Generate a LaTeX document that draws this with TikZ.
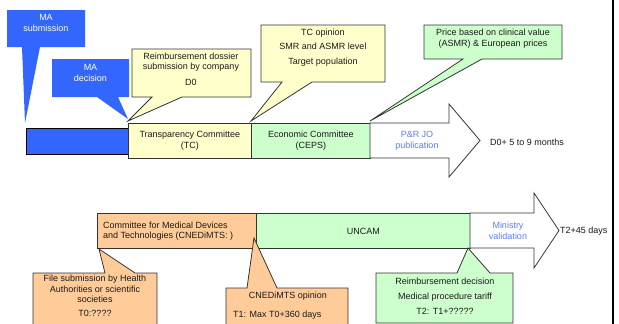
\documentclass[tikz,border=0pt]{standalone}
\usepackage{fontspec}
\setmainfont{Liberation Sans}
\definecolor{mablue}{HTML}{3366FF}
\definecolor{tcyellow}{HTML}{FFFFCC}
\definecolor{cepsgreen}{HTML}{CCFFCC}
\definecolor{orng}{HTML}{FFCC99}
\definecolor{linkblue}{HTML}{5C7CFA}
\definecolor{edgegray}{HTML}{333333}
\definecolor{txtgray}{HTML}{1A1A1A}
\begin{document}
\begin{tikzpicture}[x=1pt,y=-1pt,
  shape box/.style={draw=edgegray, line width=0.8pt, line join=miter},
  txt/.style={font=\fontsize{9}{10.5}\selectfont, inner sep=0pt, align=center, text=txtgray},
  wtxt/.style={txt, text=white},
  btxt/.style={txt, text=linkblue},
  bar/.style={shape box, anchor=north west, inner sep=0pt}]
\useasboundingbox (0,0) rectangle (619,324);
\clip (0,0) rectangle (619,324);

% ---- top row callouts
\fill[mablue] (7,10) -- (85,10) -- (85,47) -- (40,47) -- (25,123) -- (22,47) -- (7,47) -- cycle;
\node[wtxt] (masub) at (46,23) {MA\\submission};
\fill[mablue] (52,59) -- (129,59) -- (129,97) -- (118,97) -- (128,119) -- (97,97) -- (52,97) -- cycle;
\node[wtxt] (madec) at (90.5,73) {MA\\decision};

\filldraw[shape box, fill=tcyellow] (132,49) -- (251,49) -- (251,97) -- (182,97) -- (128,121) -- (152,97) -- (132,97) -- cycle;
\node[txt] (dossier) at (191,69) {Reimbursement dossier\\submission by company\\[5pt]D0};

\filldraw[shape box, fill=tcyellow] (261,25) -- (385,25) -- (385,82) -- (312,82) -- (251,121) -- (282,82) -- (261,82) -- cycle;
\node[txt, font=\fontsize{9}{14.5}\selectfont] (tcop) at (323,47.5) {TC opinion\\SMR and ASMR level\\Target population};

\filldraw[shape box, fill=cepsgreen] (424,25) -- (562,25) -- (562,59) -- (482,59) -- (370,121) -- (463,59) -- (424,59) -- cycle;
\node[txt] (price) at (493,38.5) {Price based on clinical value\\(ASMR) \& European prices};

% ---- top row bars
\filldraw[line width=0.8pt, draw=black, fill=mablue] (26,128) rectangle (128,154);
\node[bar, fill=tcyellow, minimum width=123pt, minimum height=35pt] (tc) at (128,123) {};
\node[txt] (tctxt) at (tc.center) {Transparency Committee\\(TC)};
\node[bar, fill=cepsgreen, minimum width=119pt, minimum height=35pt] (ceps) at (251,123) {};
\node[txt] (cepstxt) at (ceps.center) {Economic Committee\\(CEPS)};
\filldraw[shape box, fill=white] (370,123) -- (449,123) -- (449,104) -- (480,140.5) -- (449,177) -- (449,158) -- (370,158) -- cycle;
\node[btxt] (prjo) at (417,141) {P\&R JO\\publication};
\node[txt, anchor=west] (d0) at (490,142) {D0+ 5 to 9 months};

% ---- bottom row bars
\node[bar, fill=orng, minimum width=159pt, minimum height=35pt] (cned) at (97,213) {};
\node[txt, align=left, anchor=west] (cnedtxt) at (103,231) {Committee for Medical Devices\\and Technologies (CNEDiMTS: )};
\node[bar, fill=cepsgreen, minimum width=214pt, minimum height=35pt] (uncam) at (256,213) {};
\node[txt] (uncamtxt) at (uncam.center) {UNCAM};
\filldraw[shape box, fill=white] (470,213) -- (534,213) -- (534,193) -- (559,230.5) -- (534,268) -- (534,248) -- (470,248) -- cycle;
\node[btxt] (ministry) at (508,231) {Ministry\\validation};
\node[txt, anchor=west] (t2) at (560,231) {T2+45 days};

% ---- bottom callouts
\filldraw[shape box, fill=orng] (33,273) -- (105,273) -- (99,249) -- (135,273) -- (157,273) -- (157,330) -- (33,330) -- cycle;
\node[txt] (file) at (95,296) {File submission by Health\\Authorities or scientific\\societies\\[3pt]T0:????};

\filldraw[shape box, fill=orng] (226,288) -- (247,288) -- (254,238) -- (277,288) -- (348,288) -- (348,330) -- (226,330) -- cycle;
\node[txt] (cnedop) at (288,296) {CNEDiMTS opinion};
\node[txt, anchor=west] (t1) at (233,315) {T1: Max T0+360 days};

\filldraw[shape box, fill=cepsgreen] (376,273) -- (457,273) -- (468,248) -- (490,273) -- (513,273) -- (513,323) -- (376,323) -- cycle;
\node[txt, font=\fontsize{9}{15}\selectfont] (reimb) at (445,296) {Reimbursement decision\\Medical procedure tariff\\T2: T1+?????};

% ---- right frame line
\coordinate (ftop) at (613,0);
\coordinate (fbot) at (613,324);
\draw[line width=2.4pt, black] (ftop) -- (fbot);
\end{tikzpicture}
\end{document}
